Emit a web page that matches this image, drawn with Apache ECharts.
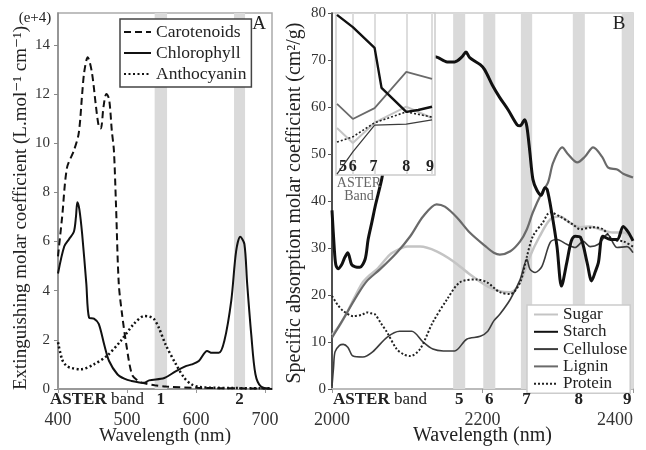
<!DOCTYPE html>
<html>
<head>
<meta charset="utf-8">
<script src="https://cdn.jsdelivr.net/npm/echarts@6/dist/echarts.min.js"></script>
<style>
  html, body { margin: 0; padding: 0; background: #fff; }
  #main { width: 646px; height: 450px; }
</style>
</head>
<body>
<div id="main"></div>
<script>
const FONT = '"Liberation Serif", "DejaVu Serif", serif';

// panel A - pigments, wavelength (nm) vs coefficient (e+4)
const carotenoids = [[400,5.4],[406,7.0],[413,9.0],[423,9.7],[430,10.4],[435,12.0],[438,12.9],[443,13.5],[449,12.9],[455,11.5],[459,10.7],[462,10.6],[466,11.5],[470,12.0],[474,11.8],[478,10.5],[481,9.7],[484,7.5],[488,4.3],[493,3.0],[499,1.8],[507,0.6],[515,0.35],[522,0.25],[540,0.15],[557,0.1],[600,0.05],[650,0.03],[710,0.02]];
const chlorophyll = [[400,4.7],[409,5.8],[416,6.1],[423,6.4],[426,7.0],[428,7.6],[431,7.3],[435,6.3],[441,4.3],[445,2.9],[452,2.86],[459,2.65],[467,1.8],[474,1.14],[486,0.6],[496,0.42],[506,0.33],[525,0.25],[532,0.35],[554,0.45],[571,0.73],[586,0.94],[594,1.0],[604,1.14],[616,1.55],[623,1.47],[633,1.47],[641,1.96],[651,3.6],[658,5.6],[664,6.2],[670,5.9],[674,4.3],[680,2.2],[686,0.6],[694,0.1],[710,0]];
const anthocyanin = [[400,1.9],[406,1.2],[412,0.95],[419,0.86],[433,0.8],[452,1.0],[471,1.35],[491,1.96],[510,2.65],[525,2.97],[532,2.95],[539,2.85],[546,2.5],[556,1.8],[571,1.0],[583,0.45],[593,0.2],[605,0.08],[650,0.04],[710,0.03]];
const bandsA = [[540,558],[655,671]];
const bandNamesA = ['1','2'];

// panel B - leaf constituents, 2000-2400 nm
const sugar = [[2000,11.5],[2010,13.5],[2020,16.3],[2030,19.5],[2041,22.7],[2050,24.2],[2060,25.5],[2077,28.6],[2090,29.8],[2100,30.3],[2117,30.3],[2139,29.3],[2161,27.2],[2183,24.4],[2206,21.9],[2223,20.8],[2237,20.6],[2250,22.7],[2263,28.2],[2276,32.5],[2290,36.1],[2303,36.7],[2316,35.4],[2330,34.4],[2343,34.6],[2356,34.0],[2373,33.3],[2387,33.3],[2400,32.0]];
const starch = [[2000,38],[2003,30],[2005,26.5],[2008,25.6],[2013,26.5],[2017,28.0],[2021,29.0],[2026,26.5],[2031,26.0],[2037,25.9],[2044,27.6],[2048,31.8],[2053,35.5],[2058,39.3],[2066,44.6],[2072,50],[2085,60],[2105,67],[2125,70.5],[2137,70.7],[2153,69.6],[2163,69.6],[2173,70.7],[2178,71.7],[2183,70.5],[2197,69.0],[2203,67.9],[2213,64.7],[2223,62.0],[2234,59.4],[2246,56.2],[2250,56.0],[2256,57.3],[2259,55.8],[2263,50.3],[2267,44.6],[2272,42.4],[2278,41.2],[2283,42.8],[2286,42.4],[2292,37.5],[2299,30.3],[2305,21.9],[2312,26.9],[2318,31.5],[2323,32.5],[2330,32.3],[2339,26.9],[2345,23.0],[2350,25],[2354,26.9],[2360,32.5],[2370,31.8],[2379,31.8],[2387,34.6],[2394,33.3],[2400,31.5]];
const cellulose = [[2000,0.6],[2002,4.5],[2004,7.9],[2010,9.3],[2015,9.5],[2021,8.9],[2028,7.0],[2041,6.8],[2054,7.9],[2073,11.0],[2090,12.3],[2106,12.3],[2121,10.0],[2134,8.5],[2148,8.1],[2163,8.1],[2179,10.6],[2197,11.2],[2207,12.3],[2215,14.5],[2223,15.9],[2237,19.1],[2250,23.3],[2259,27.6],[2263,25.5],[2270,24.8],[2279,26.1],[2290,31.2],[2299,31.8],[2312,30.8],[2323,30.1],[2334,31.4],[2343,30.3],[2354,30.8],[2366,32.9],[2379,30.1],[2392,30.3],[2400,29.0]];
const lignin = [[2000,10.9],[2015,14.9],[2033,19.8],[2046,22.9],[2064,25.5],[2086,29.0],[2104,32.5],[2121,36.7],[2139,39.3],[2150,38.8],[2166,36.5],[2183,33.3],[2206,30.1],[2215,29.0],[2223,28.6],[2237,29.3],[2250,31.4],[2259,34.0],[2267,37.6],[2279,41.8],[2287,43.9],[2294,48.2],[2306,51.4],[2314,49.9],[2326,48.2],[2336,49.4],[2347,51.4],[2359,49.4],[2367,47.1],[2379,46.7],[2387,45.8],[2400,45.0]];
const protein = [[2000,19.8],[2008,17.8],[2015,16.6],[2028,15.5],[2040,15.8],[2046,16.3],[2052,16.1],[2057,15.9],[2065,14.0],[2073,12.1],[2086,8.5],[2095,7.4],[2104,7.0],[2117,8.5],[2134,14.2],[2153,19.1],[2170,22.7],[2193,23.3],[2206,22.7],[2223,20.6],[2237,20.2],[2250,22.7],[2259,28.2],[2267,32.5],[2280,35.4],[2290,37.6],[2303,36.7],[2320,35.0],[2330,34.0],[2347,34.4],[2360,34.0],[2373,31.8],[2387,31.4],[2400,30.3]];
const bandsB = [[2161,2177],[2201,2217],[2251,2266],[2320,2336],[2385,2400]];
const bandNamesB = ['5','6','7','8','9'];

// inset - values at ASTER bands 5..9 (relative x position inside inset)
const insetX = [1, 17, 39, 71, 97];
const insetLabelX = [7, 17, 38, 71, 95];
const insetSugar = [55.6, 52.4, 56.7, 60.1, 57.7];
const insetStarch = [[1,79.6],[17,77.0],[39,72.6],[46,64.1],[71,59.0],[83,59.4],[97,60.1]];
const insetCellulose = [45.8, 50.5, 56.2, 56.4, 57.3];
const insetLignin = [60.7, 57.5, 59.8, 67.5, 66.0];
const insetProtein = [52.6, 53.7, 56.7, 59.0, 57.9];

const styleB = {
    Sugar: {color: '#c4c4c4', width: 2.5, type: 'solid'},
    Starch: {color: '#111', width: 3, type: 'solid'},
    Cellulose: {color: '#3c3c3c', width: 1.6, type: 'solid'},
    Lignin: {color: '#6a6a6a', width: 2.2, type: 'solid'},
    Protein: {color: '#222', width: 2, type: [2, 2]}
};

const pair = vals => vals.map((v, i) => [insetX[i], v]);
const plain = v => String(v);
const tickText = {color: '#333', fontFamily: FONT, formatter: plain};

const lineA = (name, data, type, width) => ({
    name, type: 'line', data, xAxisIndex: 0, yAxisIndex: 0,
    symbol: 'none', smooth: 0.3, z: 3,
    lineStyle: {color: '#111', width, type},
    itemStyle: {color: '#111'}
});
const lineB = (name, data) => ({
    name, type: 'line', data, xAxisIndex: 1, yAxisIndex: 1,
    symbol: 'none', smooth: 0.3, z: 3,
    lineStyle: styleB[name], itemStyle: {color: styleB[name].color}
});
const lineInset = (name, data) => ({
    name: name + ' (inset)', type: 'line', data, xAxisIndex: 2, yAxisIndex: 2,
    symbol: 'none', z: 12,
    lineStyle: Object.assign({}, styleB[name], {width: styleB[name].width * 0.8}),
    itemStyle: {color: styleB[name].color}
});

const option = {
    animation: false,
    backgroundColor: '#fff',
    textStyle: {fontFamily: FONT},
    grid: [
        {left: 58, top: 13, width: 214, height: 376, show: true, borderColor: '#aaa', borderWidth: 1.5, outerBoundsMode: 'none'},
        {left: 332, top: 13, width: 301, height: 376, show: true, borderColor: '#ccc', borderWidth: 1.5, outerBoundsMode: 'none'},
        {left: 336, top: 13, width: 99, height: 162, show: true, backgroundColor: '#fff', borderColor: '#ccc', borderWidth: 1.5, z: 10, outerBoundsMode: 'none'}
    ],
    xAxis: [
        {
            gridIndex: 0, type: 'value', min: 400, max: 710, interval: 100,
            name: 'Wavelength (nm)', nameLocation: 'middle', nameGap: 38, nameMoveOverlap: false,
            nameTextStyle: {fontSize: 19, color: '#222', fontFamily: FONT},
            axisLine: {lineStyle: {color: '#999', width: 2}},
            axisTick: {length: 4, lineStyle: {color: '#999'}},
            axisLabel: Object.assign({fontSize: 18, margin: 22, showMaxLabel: false}, tickText),
            splitLine: {show: false}
        },
        {
            gridIndex: 1, type: 'value', min: 2000, max: 2400, interval: 200,
            name: 'Wavelength (nm)', nameLocation: 'middle', nameGap: 37, nameMoveOverlap: false,
            nameTextStyle: {fontSize: 20, color: '#222', fontFamily: FONT},
            axisLine: {lineStyle: {color: '#bbb', width: 2}},
            axisTick: {length: 4, lineStyle: {color: '#999'}},
            axisLabel: Object.assign({fontSize: 18, margin: 22, alignMaxLabel: 'right'}, tickText),
            splitLine: {show: false}
        },
        {gridIndex: 2, type: 'value', min: 0, max: 100, show: false}
    ],
    yAxis: [
        {
            gridIndex: 0, type: 'value', min: 0, max: 15.3, interval: 2,
            name: 'Extinguishing molar coefficient (L.mol\u207B\u00B9 cm\u207B\u00B9)',
            nameLocation: 'middle', nameGap: 27,
            nameTextStyle: {fontSize: 19, color: '#222', fontFamily: FONT, padding: [0, 14, 0, 0]},
            axisLine: {lineStyle: {color: '#888', width: 1.5}},
            axisTick: {length: 4, lineStyle: {color: '#888'}},
            axisLabel: Object.assign({fontSize: 15, margin: 8, showMaxLabel: false}, tickText),
            splitLine: {show: false}
        },
        {
            gridIndex: 1, type: 'value', min: 0, max: 80, interval: 10,
            name: 'Specific absorption molar coefficient (cm\u00B2/g)',
            nameLocation: 'middle', nameGap: 27,
            nameTextStyle: {fontSize: 20, color: '#222', fontFamily: FONT, padding: [0, 4, 0, 0]},
            axisLine: {lineStyle: {color: '#222', width: 1.5}},
            axisTick: {length: 4, lineStyle: {color: '#555'}},
            axisLabel: Object.assign({fontSize: 15, margin: 6}, tickText),
            splitLine: {show: false}
        },
        {gridIndex: 2, type: 'value', min: 45.6, max: 80, show: false}
    ],
    legend: [
        {
            data: ['Carotenoids', 'Chlorophyll', 'Anthocyanin'],
            orient: 'vertical', left: 120, top: 19,
            padding: [4, 5, 4, 3], itemGap: 3, itemWidth: 27, itemHeight: 14,
            borderColor: '#444', borderWidth: 1.5, backgroundColor: '#fff',
            itemStyle: {opacity: 0},
            textStyle: {fontSize: 17.5, lineHeight: 18, color: '#222', fontFamily: FONT}
        },
        {
            data: ['Sugar', 'Starch', 'Cellulose', 'Lignin', 'Protein'],
            orient: 'vertical', left: 527, top: 305,
            padding: [1, 3, 1, 6], itemGap: 0.3, itemWidth: 24, itemHeight: 14,
            borderColor: '#ccc', borderWidth: 1.5, backgroundColor: '#fff',
            itemStyle: {opacity: 0},
            textStyle: {fontSize: 17, lineHeight: 16, color: '#222', fontFamily: FONT}
        }
    ],
    series: [
        {
            name: 'bandsA', type: 'line', data: [], xAxisIndex: 0, yAxisIndex: 0, z: 1,
            markArea: {silent: true, itemStyle: {color: '#dadada'},
                data: bandsA.map(b => [{xAxis: b[0]}, {xAxis: b[1]}])}
        },
        lineA('Carotenoids', carotenoids, [7, 4], 2),
        lineA('Chlorophyll', chlorophyll, 'solid', 2),
        lineA('Anthocyanin', anthocyanin, [2, 2.5], 2.5),
        {
            name: 'bandsB', type: 'line', data: [], xAxisIndex: 1, yAxisIndex: 1, z: 1,
            markArea: {silent: true, itemStyle: {color: '#dadada'},
                data: bandsB.map(b => [{xAxis: b[0]}, {xAxis: b[1]}])}
        },
        lineB('Sugar', sugar),
        lineB('Cellulose', cellulose),
        lineB('Lignin', lignin),
        lineB('Protein', protein),
        lineB('Starch', starch),
        {
            name: 'insetBands', type: 'line', data: [], xAxisIndex: 2, yAxisIndex: 2, z: 11,
            markLine: {silent: true, symbol: 'none', z: 11, label: {show: false},
                lineStyle: {color: '#ddd', width: 2, type: 'solid'},
                data: insetX.slice(1).map(x => ({xAxis: x}))}
        },
        lineInset('Sugar', pair(insetSugar)),
        lineInset('Cellulose', pair(insetCellulose)),
        lineInset('Lignin', pair(insetLignin)),
        lineInset('Protein', pair(insetProtein)),
        lineInset('Starch', insetStarch)
    ]
};

const chart = echarts.init(document.getElementById('main'));
chart.setOption(option);

// band numbers and captions placed through the axes
const px = (axis, v) => chart.convertToPixel({xAxisIndex: axis}, v);
const txt = (text, x, y, font, extra) => ({
    type: 'text', x, y, z: 30,
    style: Object.assign({text, font, fill: '#222', align: 'center', verticalAlign: 'middle'}, extra || {})
});
const bold = 'bold 17px ' + FONT;
const graphics = [];
const asterBand = x => txt('{b|ASTER} band', x, 400, '17px ' + FONT,
    {align: 'left', rich: {b: {fontWeight: 'bold', fontSize: 17, fontFamily: FONT}}});
graphics.push(asterBand(50));
graphics.push(asterBand(333));
bandsA.forEach((b, i) => graphics.push(txt(bandNamesA[i], px(0, (b[0] + b[1]) / 2), 400, bold)));
bandsB.forEach((b, i) => graphics.push(txt(bandNamesB[i], px(1, (b[0] + b[1]) / 2), 400, bold)));
bandNamesB.forEach((n, i) => graphics.push(txt(n, px(2, insetLabelX[i]), 167, 'bold 16px ' + FONT)));
graphics.push(txt('ASTER', 359, 183, '14px ' + FONT, {fill: '#666'}));
graphics.push(txt('Band', 359, 196, '14px ' + FONT, {fill: '#666'}));
graphics.push(txt('(e+4)', 35, 18, '15px ' + FONT));
graphics.push(txt('A', 259, 24, '19px ' + FONT));
graphics.push(txt('B', 619, 24, '19px ' + FONT));
chart.setOption({graphic: graphics});
</script>
</body>
</html>
